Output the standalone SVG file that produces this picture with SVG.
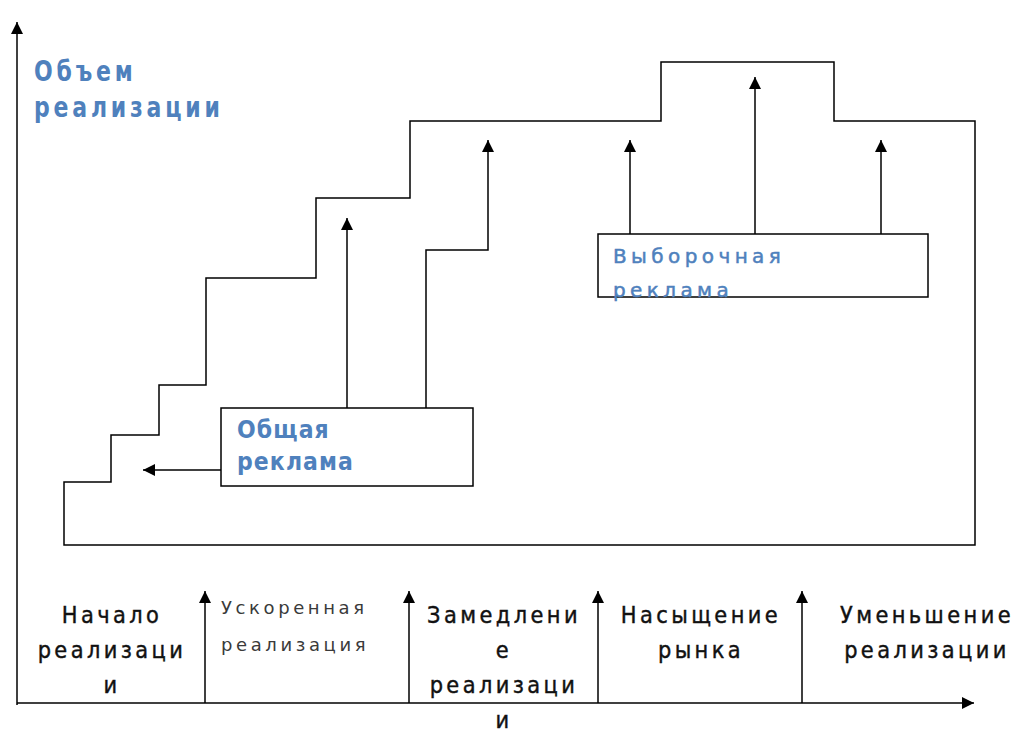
<svg xmlns="http://www.w3.org/2000/svg" width="1021" height="734" viewBox="0 0 1021 734">
<defs>
<marker id="ah" viewBox="0 0 10 10" refX="10" refY="5" markerWidth="12" markerHeight="12" markerUnits="userSpaceOnUse" orient="auto">
<path d="M0,0 L10,5 L0,10 z" fill="#000"/>
</marker>
</defs>
<style>
.ln{fill:none;stroke:#000;stroke-width:1.5}
.ar{fill:none;stroke:#000;stroke-width:1.5;marker-end:url(#ah)}
.box{fill:#fff;stroke:#000;stroke-width:1.5}
.title{font-family:"DejaVu Sans",sans-serif;font-size:22px;font-weight:bold;fill:#4f81bd;letter-spacing:3.8px}
.gen{font-family:"DejaVu Sans",sans-serif;font-size:22px;font-weight:bold;fill:#4f81bd;letter-spacing:1.1px}
.sel{font-family:"DejaVu Sans",sans-serif;font-size:20px;fill:#4f81bd;stroke:#4f81bd;stroke-width:0.5px;letter-spacing:4.4px}
.lab{font-family:"DejaVu Sans",sans-serif;font-size:21px;fill:#111;stroke:#111;stroke-width:0.4px;letter-spacing:3.4px;text-anchor:middle}
.gray{font-family:"DejaVu Sans",sans-serif;font-size:18px;fill:#3a3a3a;letter-spacing:3.6px}
</style>
<g id="axes">
<line class="ar" x1="17" y1="705" x2="17" y2="22"/>
<line class="ar" x1="17" y1="703" x2="974" y2="703"/>
</g>
<g id="title">
<text class="title" transform="translate(34,81) scale(1,1.28)">Объем</text>
<text class="title" transform="translate(34,117) scale(1,1.28)">реализации</text>
</g>
<g id="staircase">
<path class="ln" d="M64,545 V482 H111 V435 H159 V385 H206 V278 H316 V198 H410 V121 H661 V62 H834 V121 H975 V545 Z"/>
</g>
<g id="connectors">
<line class="ar" x1="347" y1="408" x2="347" y2="218"/>
<path class="ar" d="M426,408 V250 H488 V140"/>
<line class="ar" x1="221" y1="470" x2="143" y2="470"/>
<line class="ar" x1="630" y1="234" x2="630" y2="140"/>
<line class="ar" x1="755" y1="234" x2="755" y2="77"/>
<line class="ar" x1="881" y1="234" x2="881" y2="140"/>
<line class="ar" x1="205" y1="703" x2="205" y2="591"/>
<line class="ar" x1="409" y1="703" x2="409" y2="591"/>
<line class="ar" x1="598" y1="703" x2="598" y2="591"/>
<line class="ar" x1="802" y1="703" x2="802" y2="591"/>
</g>
<g id="general-ad">
<rect class="box" x="221" y="408" width="252" height="78"/>
<text class="gen" transform="translate(237,437.5) scale(1,1.09)">Общая</text>
<text class="gen" transform="translate(237,470) scale(1,1.09)">реклама</text>
</g>
<g id="selective-ad">
<rect class="box" x="598" y="234" width="330" height="63"/>
<text class="sel" x="613" y="263">Выборочная</text>
<text class="sel" x="613" y="297">реклама</text>
</g>
<g id="stage1">
<text class="lab" transform="translate(112,623) scale(1,1.12)">Начало</text>
<text class="lab" transform="translate(112,658) scale(1,1.12)">реализаци</text>
<text class="lab" transform="translate(112,693) scale(1,1.12)">и</text>
</g>
<g id="stage2">
<text class="gray" x="221" y="614">Ускоренная</text>
<text class="gray" x="221" y="651">реализация</text>
</g>
<g id="stage3">
<text class="lab" transform="translate(504,623) scale(1,1.12)">Замедлени</text>
<text class="lab" transform="translate(504,658) scale(1,1.12)">е</text>
<text class="lab" transform="translate(504,693) scale(1,1.12)">реализаци</text>
<text class="lab" transform="translate(504,728) scale(1,1.12)">и</text>
</g>
<g id="stage4">
<text class="lab" transform="translate(701,623) scale(1,1.12)">Насыщение</text>
<text class="lab" transform="translate(701,658) scale(1,1.12)">рынка</text>
</g>
<g id="stage5">
<text class="lab" transform="translate(927,623) scale(1,1.12)">Уменьшение</text>
<text class="lab" transform="translate(927,658) scale(1,1.12)">реализации</text>
</g>
</svg>
